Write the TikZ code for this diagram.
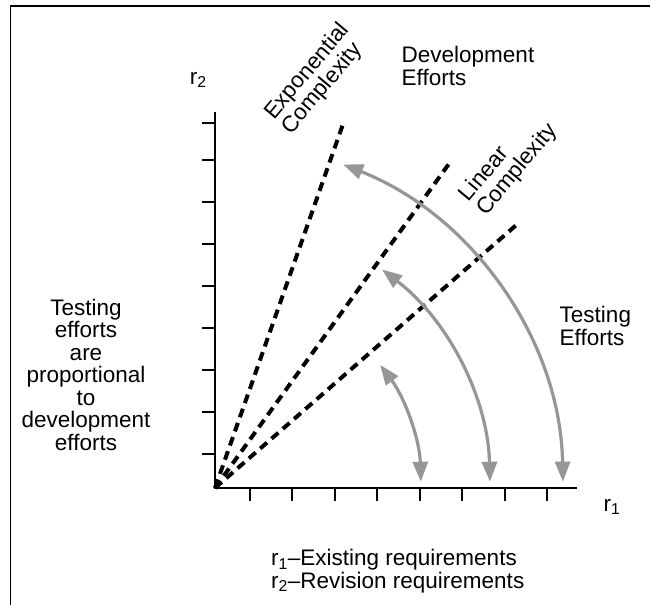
\documentclass[tikz,border=0pt]{standalone}
\usepackage{fontspec}
\setmainfont{Liberation Sans}
\usetikzlibrary{arrows.meta}
\definecolor{effortgray}{RGB}{150,150,153}
\begin{document}
\begin{tikzpicture}[x=1bp, y=1bp,
    axis/.style={line width=2.5bp},
    tick/.style={line width=2bp},
    trend/.style={line width=4bp, dash pattern=on 9bp off 6bp},
    effort/.style={effortgray, line width=3.2bp,
        {Triangle[length=20bp,width=15bp]}-{Triangle[length=20bp,width=15bp]}},
    txt/.style={inner sep=0pt, font=\fontsize{22.5bp}{22.5bp}\selectfont}]
    % Page and frame
    \useasboundingbox (0,0) rectangle (650,605);
    \draw[line width=1.7bp] (10.5,0) -- (10.5,599.3) -- (650,599.3);

    % Axes with ticks
    \coordinate (O) at (215,117);
    \coordinate (Xend) at (577,117);
    \coordinate (Yend) at (215,493);
    \draw[axis] (Yend) -- (O) -- (Xend);
    \foreach \x in {249.5,292,334.5,377,419.5,462,504.5,547}
        \draw[tick] (\x,117) -- (\x,104);
    \foreach \y in {151,193,235,277,319,361,403,445,482}
        \draw[tick] (215,\y) -- (202,\y);

    % Complexity lines
    \coordinate (E) at (343.3,481.7);
    \coordinate (L) at (451.7,445);
    \coordinate (M) at (518.3,381.7);
    \draw[trend] (O) -- (E);
    \draw[trend] (O) -- (L);
    \draw[trend] (O) -- (M);

    % Testing efforts arcs
    \draw[effort] ([shift={(1.75:206)}]O) arc[start angle=1.75, end angle=36.7, radius=206];
    \draw[effort] ([shift={(1.3:275)}]O) arc[start angle=1.3, end angle=52.6, radius=275];
    \draw[effort] ([shift={(1.05:348)}]O) arc[start angle=1.05, end angle=68.4, radius=348];

    % Labels
    \node[txt] (r2) at (198.3,525) {r\textsubscript{2}};
    \node[txt] (r1) at (612,98) {r\textsubscript{1}};
    \node[txt, align=left, rotate=50] (expo) at (316,526) {Exponential\\Complexity};
    \node[txt, align=left, rotate=50] (lin) at (508.8,442) {Linear\\Complexity};
    \node[txt, align=left, anchor=north west] (dev) at (401.5,558.5) {Development\\Efforts};
    \node[txt, align=left, anchor=north west] (test) at (559.5,298.5) {Testing\\Efforts};
    \node[txt, align=center, anchor=north] (prop) at (86,306.3)
        {Testing\\efforts\\are\\proportional\\to\\development\\efforts};
    \node[txt, align=left, anchor=north west] (legend) at (271,56)
        {r\textsubscript{1}--Existing requirements\\r\textsubscript{2}--Revision requirements};
\end{tikzpicture}
\end{document}
